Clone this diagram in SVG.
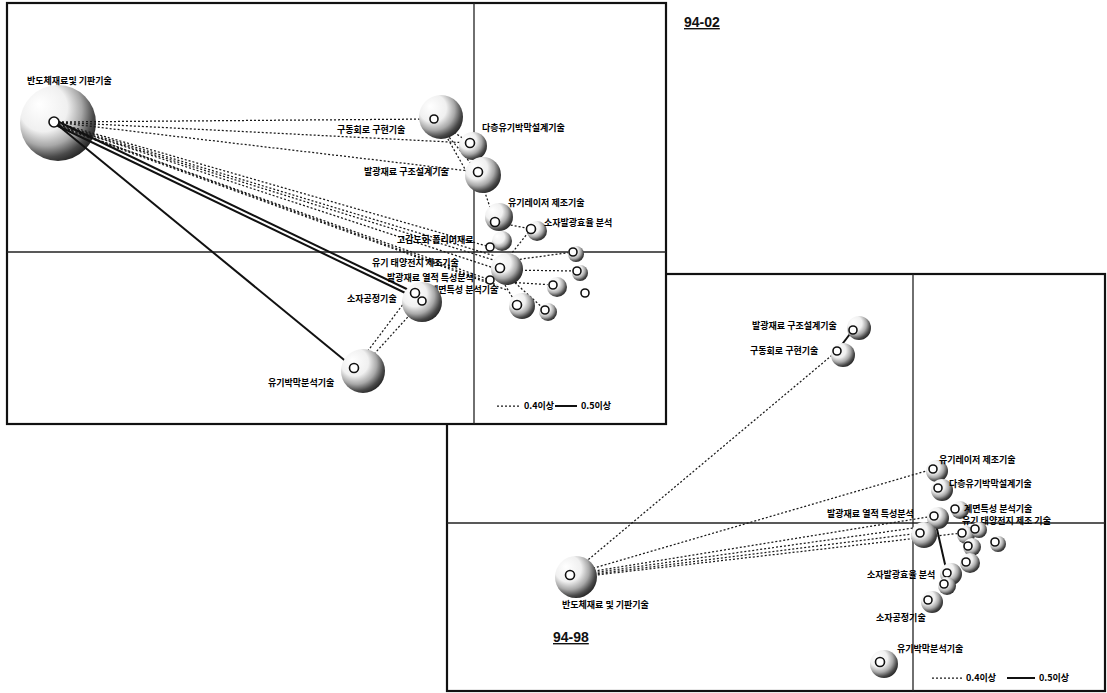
<svg xmlns="http://www.w3.org/2000/svg" width="1107" height="693" viewBox="0 0 1107 693">
<defs>
<radialGradient id="ball" cx="0.38" cy="0.36" r="0.7" fx="0.25" fy="0.25">
<stop offset="0" stop-color="#ffffff"/>
<stop offset="0.45" stop-color="#f0f0f0"/>
<stop offset="0.68" stop-color="#a8a8a8"/>
<stop offset="0.86" stop-color="#4a4a4a"/>
<stop offset="1" stop-color="#1e1e1e"/>
</radialGradient>
<style>
.frame{fill:#fff;stroke:#111;stroke-width:2.2}
.axis{stroke:#222;stroke-width:1.3;fill:none}
.dot{stroke:#1a1a1a;stroke-width:1.25;stroke-dasharray:2 2;fill:none}
.sol{stroke:#111;stroke-width:2;fill:none}
.ball{fill:url(#ball)}
.pt{fill:#fff;stroke:#111;stroke-width:1.6}
.lbl{font-family:"Noto Sans CJK KR","Noto Sans",sans-serif;font-size:9px;font-weight:bold;fill:#000}
.title{font-family:"Liberation Sans",Arial,sans-serif;font-size:14px;font-weight:bold;fill:#111;text-decoration:underline}
</style>
</defs>
<rect width="1107" height="693" fill="#fff"/>

<!-- ===== Panel 94-98 (behind) ===== -->
<g id="panel-94-98">
<rect class="frame" x="447" y="274" width="658" height="417"/>
<line class="axis" x1="913" y1="274" x2="913" y2="691"/>
<line class="axis" x1="447" y1="523" x2="1105" y2="523"/>
</g>
<g id="connectors-94-98">
<line class="dot" x1="570" y1="575" x2="837" y2="351"/>
<line class="dot" x1="570" y1="575" x2="933" y2="469"/>
<line class="dot" x1="570" y1="575" x2="934" y2="516"/>
<line class="dot" x1="570" y1="576" x2="928" y2="526"/>
<line class="dot" x1="570" y1="577" x2="920" y2="533"/>
<line class="dot" x1="570" y1="578" x2="962" y2="533"/>
<line class="sol" x1="837" y1="351" x2="853" y2="330"/>
<line class="sol" x1="934" y1="516" x2="947" y2="573"/>
</g>
<g id="b-bandoche"><circle class="ball" cx="576" cy="577" r="21"/><circle class="pt" cx="570" cy="575" r="4.5"/><text class="lbl" x="562" y="608">반도체재료 및 기판기술</text></g>
<g id="b-balgwang-gujo"><circle class="ball" cx="859" cy="328" r="12"/><circle class="pt" cx="853" cy="330" r="4"/><text class="lbl" x="752" y="329">발광재료 구조설계기술</text></g>
<g id="b-gudong"><circle class="ball" cx="843" cy="355" r="12"/><circle class="pt" cx="837" cy="351" r="4"/><text class="lbl" x="750" y="354">구동회로 구현기술</text></g>
<g id="b-laser"><circle class="ball" cx="937" cy="471" r="11"/><circle class="pt" cx="933" cy="469" r="4"/><text class="lbl" x="939" y="463">유기레이저 제조기술</text></g>
<g id="b-dacheung"><circle class="ball" cx="942" cy="490" r="11"/><circle class="pt" cx="938" cy="488" r="4"/><text class="lbl" x="949" y="487">다층유기박막설계기술</text></g>
<g id="b-yeoljeok"><circle class="ball" cx="938" cy="518" r="11"/><circle class="pt" cx="934" cy="516" r="4"/><text class="lbl" x="827" y="517">발광재료 열적 특성분석</text></g>
<g id="b-gyemyeon"><circle class="ball" cx="960" cy="510" r="9"/><circle class="pt" cx="955" cy="509" r="4"/><text class="lbl" x="964" y="512">계면특성 분석기술</text></g>
<g id="b-taeyang"><circle class="ball" cx="924" cy="535" r="13"/><circle class="pt" cx="920" cy="533" r="4"/><text class="lbl" x="962" y="524">유기 태양전지 제조 기술</text></g>
<g id="b-n1"><circle class="ball" cx="966" cy="535" r="9"/><circle class="pt" cx="962" cy="533" r="4"/></g>
<g id="b-n2"><circle class="ball" cx="979" cy="530" r="8"/><circle class="pt" cx="975" cy="529" r="4"/></g>
<g id="b-n3"><circle class="ball" cx="972" cy="547" r="9"/><circle class="pt" cx="968" cy="546" r="4"/></g>
<g id="b-n4"><circle class="ball" cx="970" cy="563" r="10"/><circle class="pt" cx="966" cy="562" r="4"/></g>
<g id="b-n5"><circle class="ball" cx="998" cy="544" r="8"/><circle class="pt" cx="995" cy="542" r="4"/></g>
<g id="b-hyoyul"><circle class="ball" cx="951" cy="574" r="11"/><circle class="pt" cx="947" cy="573" r="4"/><text class="lbl" x="867" y="578">소자발광효율 분석</text></g>
<g id="b-n6"><circle class="ball" cx="947" cy="586" r="9"/><circle class="pt" cx="944" cy="584" r="4"/></g>
<g id="b-gongjeong"><circle class="ball" cx="932" cy="602" r="11"/><circle class="pt" cx="928" cy="600" r="4"/><text class="lbl" x="876" y="621">소자공정기술</text></g>
<g id="b-bakmak"><circle class="ball" cx="884" cy="664" r="14"/><circle class="pt" cx="880" cy="662" r="4.5"/><text class="lbl" x="897" y="652">유기박막분석기술</text></g>
<g id="legend-94-98">
<line class="dot" x1="932" y1="678" x2="962" y2="678"/>
<text class="lbl" x="966" y="681">0.4이상</text>
<line class="sol" x1="1007" y1="678" x2="1035" y2="678" stroke-width="1.3"/>
<text class="lbl" x="1039" y="681">0.5이상</text>
</g>
<text class="title" x="553" y="642">94-98</text>

<!-- ===== Panel 94-02 (front) ===== -->
<g id="panel-94-02">
<rect class="frame" x="7" y="3" width="659" height="421"/>
<line class="axis" x1="474" y1="3" x2="474" y2="424"/>
<line class="axis" x1="7" y1="252" x2="666" y2="252"/>
</g>
<g id="a-bandoche-ball"><circle class="ball" cx="58" cy="123" r="38"/></g>
<g id="connectors-94-02">
<line class="dot" x1="54" y1="122" x2="434" y2="119"/>
<line class="dot" x1="54" y1="122" x2="470" y2="143"/>
<line class="dot" x1="54" y1="122" x2="478" y2="172"/>
<line class="dot" x1="54" y1="122" x2="490" y2="247"/>
<line class="dot" x1="55" y1="123" x2="495" y2="256"/>
<line class="dot" x1="55" y1="124" x2="500" y2="262"/>
<line class="dot" x1="56" y1="124" x2="500" y2="270"/>
<line class="dot" x1="56" y1="125" x2="490" y2="280"/>
<line class="dot" x1="57" y1="125" x2="497" y2="285"/>
<line class="dot" x1="57" y1="126" x2="507" y2="290"/>
<line class="dot" x1="434" y1="119" x2="470" y2="143"/>
<line class="dot" x1="434" y1="119" x2="478" y2="172"/>
<line class="dot" x1="440" y1="125" x2="474" y2="185"/>
<line class="dot" x1="478" y1="172" x2="495" y2="222"/>
<line class="dot" x1="495" y1="222" x2="531" y2="229"/>
<line class="dot" x1="531" y1="229" x2="500" y2="268"/>
<line class="dot" x1="500" y1="262" x2="573" y2="252"/>
<line class="dot" x1="505" y1="270" x2="577" y2="271"/>
<line class="dot" x1="507" y1="282" x2="553" y2="285"/>
<line class="dot" x1="505" y1="285" x2="517" y2="305"/>
<line class="dot" x1="512" y1="280" x2="545" y2="310"/>
<line class="dot" x1="358" y1="364" x2="404" y2="303"/>
<line class="dot" x1="366" y1="363" x2="416" y2="308"/>
<line class="sol" x1="54" y1="122" x2="354" y2="368"/>
<line class="sol" x1="57" y1="121" x2="415" y2="293"/>
<line class="sol" x1="58" y1="126" x2="422" y2="301"/>
</g>
<g id="a-bandoche"><circle class="pt" cx="54" cy="122" r="5"/><text class="lbl" x="27" y="84">반도체재료및 기판기술</text></g>
<g id="a-gudong"><circle class="ball" cx="441" cy="117" r="22"/><circle class="pt" cx="434" cy="119" r="4"/><text class="lbl" x="337" y="133">구동회로 구현기술</text></g>
<g id="a-dacheung"><circle class="ball" cx="473" cy="146" r="14"/><circle class="pt" cx="470" cy="143" r="4.5"/><text class="lbl" x="482" y="131">다층유기박막설계기술</text></g>
<g id="a-balgwang-gujo"><circle class="ball" cx="483" cy="175" r="18"/><circle class="pt" cx="478" cy="172" r="4.5"/><text class="lbl" x="364" y="175">발광재료 구조설계기술</text></g>
<g id="a-laser"><circle class="ball" cx="499" cy="217" r="14"/><circle class="pt" cx="495" cy="222" r="4.5"/><text class="lbl" x="508" y="206">유기레이저 제조기술</text></g>
<g id="a-hyoyul"><circle class="ball" cx="537" cy="231" r="10"/><circle class="pt" cx="531" cy="229" r="4.5"/><text class="lbl" x="544" y="226">소자발광효율 분석</text></g>
<g id="a-polymer"><circle class="ball" cx="502" cy="241" r="10"/><circle class="pt" cx="490" cy="247" r="4"/><text class="lbl" x="397" y="243">고감도화 폴리머재료</text></g>
<g id="a-taeyang"><circle class="ball" cx="507" cy="269" r="16"/><circle class="pt" cx="500" cy="268" r="4.5"/><text class="lbl" x="372" y="266">유기 태양전지 제조기술</text></g>
<g id="a-yeoljeok"><circle class="pt" cx="490" cy="280" r="4"/><text class="lbl" x="387" y="281">발광재료 열적 특성분석</text></g>
<g id="a-gyemyeon"><text class="lbl" x="430" y="293">계면특성 분석기술</text></g>
<g id="a-n1"><circle class="ball" cx="576" cy="254" r="8"/><circle class="pt" cx="573" cy="252" r="4"/></g>
<g id="a-n2"><circle class="ball" cx="580" cy="273" r="8"/><circle class="pt" cx="577" cy="271" r="4"/></g>
<g id="a-n3"><circle class="ball" cx="557" cy="287" r="10"/><circle class="pt" cx="553" cy="285" r="4"/></g>
<g id="a-n4"><circle class="pt" cx="585" cy="293" r="4"/></g>
<g id="a-n5"><circle class="ball" cx="522" cy="306" r="13"/><circle class="pt" cx="517" cy="305" r="4.5"/></g>
<g id="a-n6"><circle class="ball" cx="548" cy="312" r="9"/><circle class="pt" cx="545" cy="310" r="4"/></g>
<g id="a-gongjeong"><circle class="ball" cx="422" cy="302" r="20"/><circle class="pt" cx="415" cy="293" r="4.5"/><circle class="pt" cx="422" cy="301" r="4"/><text class="lbl" x="347" y="302">소자공정기술</text></g>
<g id="a-bakmak"><circle class="ball" cx="363" cy="371" r="22"/><circle class="pt" cx="354" cy="368" r="4.5"/><text class="lbl" x="268" y="386">유기박막분석기술</text></g>
<g id="legend-94-02">
<line class="dot" x1="497" y1="406" x2="521" y2="406"/>
<text class="lbl" x="524" y="409">0.4이상</text>
<line class="sol" x1="555" y1="406" x2="577" y2="406" stroke-width="1.3"/>
<text class="lbl" x="581" y="409">0.5이상</text>
</g>
<text class="title" x="684" y="27">94-02</text>
</svg>
